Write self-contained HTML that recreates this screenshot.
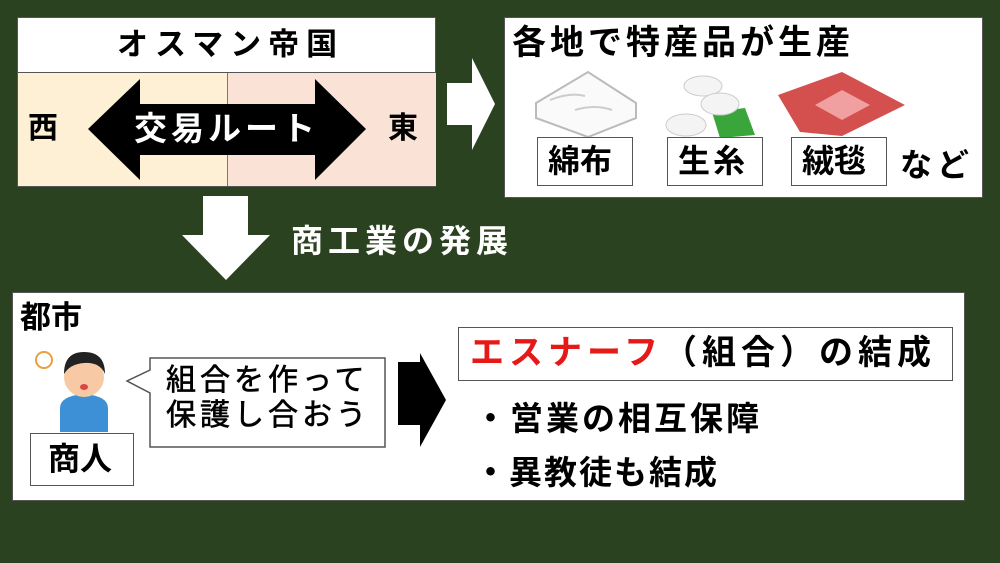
<!DOCTYPE html>
<html><head><meta charset="utf-8"><style>
body{margin:0;width:1000px;height:563px;background:#2b4220;position:relative;overflow:hidden;font-family:"Liberation Sans","Noto Sans CJK JP",sans-serif;font-weight:bold;}
.a{position:absolute;white-space:nowrap;line-height:1;}
.box{position:absolute;background:#fff;box-sizing:border-box;}
</style></head><body>
<div class="box" style="left:17px;top:17px;width:419px;height:170px;border:1px solid #555;"></div>
<div class="a" style="left:18px;top:73px;width:209px;height:113px;background:#fef0d4;"></div>
<div class="a" style="left:227px;top:73px;width:208px;height:113px;background:#fbe2d6;border-left:1px solid #777;"></div>
<div class="a" style="left:17px;top:72px;width:419px;height:1px;background:#555;"></div>
<div class="a" style="left:117px;top:29px;font-size:31px;letter-spacing:7px;">オスマン帝国</div>
<div class="a" style="left:28px;top:114px;font-size:30px;">西</div>
<div class="a" style="left:388px;top:114px;font-size:30px;">東</div>
<svg class="a" style="left:0;top:0" width="1000" height="563">
<polygon points="88,129 140,79 140,104 315,104 315,180 315,155 140,155 140,180" fill="#000"/>
<polygon points="366,129 315,79 315,180" fill="#000"/>
<polygon points="447,83 472,83 472,58 495,104 472,150 472,125 447,125" fill="#fff"/>
<polygon points="203,196 248,196 248,235 270,235 226,280 182,235 203,235" fill="#fff"/>
<polygon points="398,362 420,362 420,353 446,400 420,447 420,425 398,425" fill="#000"/>
<polygon points="536,103 588,72 636,103 636,118 588,137 536,118" fill="#fafafa" stroke="#bbb" stroke-width="2"/>
<path d="M550,100 Q570,92 585,96 M575,110 Q595,104 612,110" stroke="#ccc" stroke-width="2" fill="none"/>
<path d="M712,112 L745,108 L755,135 L720,138 Z" fill="#3aa53a"/>
<ellipse cx="703" cy="86" rx="19" ry="10" fill="#f4f4f4" stroke="#ccc"/>
<ellipse cx="720" cy="104" rx="19" ry="11" fill="#f4f4f4" stroke="#ccc"/>
<ellipse cx="686" cy="125" rx="20" ry="11" fill="#f4f4f4" stroke="#ccc"/>
<polygon points="778,95 842,72 905,105 842,136 800,132" fill="#d4504f"/>
<polygon points="815,105 842,90 870,105 842,120" fill="#f0a0a0"/>
<circle cx="44" cy="360" r="8" fill="#fff" stroke="#e8a040" stroke-width="2"/>
<path d="M60,408 Q60,396 84,394 Q108,396 108,408 L108,432 L60,432 Z" fill="#3d8fd6"/>
<circle cx="84" cy="377" r="20" fill="#f7c9a4"/>
<path d="M64,374 Q64,352 84,352 Q105,352 105,374 Q100,362 84,363 Q70,364 64,374Z" fill="#222"/>
<ellipse cx="84" cy="387" rx="4" ry="3" fill="#d44"/>
<polygon points="150,358 385,358 385,447 150,447 150,393 127,381 150,370" fill="#fff" stroke="#555" stroke-width="1.5"/>
</svg>
<div class="a" style="left:291px;top:225px;font-size:32px;color:#fff;letter-spacing:5px;">商工業の発展</div>
<div class="a" style="left:134px;top:112px;font-size:33px;color:#fff;letter-spacing:4px;">交易ルート</div>
<div class="box" style="left:504px;top:17px;width:479px;height:181px;border:1px solid #555;z-index:-1"></div>
<div class="a" style="left:512px;top:26px;font-size:34px;letter-spacing:4px;">各地で特産品が生産</div>
<div class="box" style="left:537px;top:137px;width:96px;height:49px;border:1px solid #555;"></div>
<div class="box" style="left:667px;top:137px;width:96px;height:49px;border:1px solid #555;"></div>
<div class="box" style="left:791px;top:137px;width:96px;height:49px;border:1px solid #555;"></div>
<div class="a" style="left:548px;top:145px;font-size:32px;">綿布</div>
<div class="a" style="left:678px;top:145px;font-size:32px;letter-spacing:3px;">生糸</div>
<div class="a" style="left:802px;top:145px;font-size:32px;">絨毯</div>
<div class="a" style="left:900px;top:149px;font-size:32px;letter-spacing:5px;">など</div>
<div class="box" style="left:12px;top:292px;width:953px;height:209px;border:1px solid #555;z-index:-1"></div>
<div class="a" style="left:20px;top:302px;font-size:31px;">都市</div>
<div class="box" style="left:30px;top:433px;width:104px;height:53px;border:1px solid #555;"></div>
<div class="a" style="left:48px;top:443px;font-size:32px;">商人</div>
<div class="a" style="left:166px;top:366px;font-size:30px;letter-spacing:4px;font-weight:normal;-webkit-text-stroke:0.6px #000;">組合を作って</div>
<div class="a" style="left:166px;top:401px;font-size:30px;letter-spacing:4px;font-weight:normal;-webkit-text-stroke:0.6px #000;">保護し合おう</div>
<div class="box" style="left:458px;top:327px;width:495px;height:54px;border:1px solid #555;"></div>
<div class="a" style="left:470px;top:336px;font-size:34px;letter-spacing:5px;"><span style="color:#e61919">エスナーフ</span>（組合）の結成</div>
<div class="a" style="left:474px;top:402px;font-size:33px;letter-spacing:3px;">・営業の相互保障</div>
<div class="a" style="left:474px;top:456px;font-size:33px;letter-spacing:2px;">・異教徒も結成</div>
</body></html>
